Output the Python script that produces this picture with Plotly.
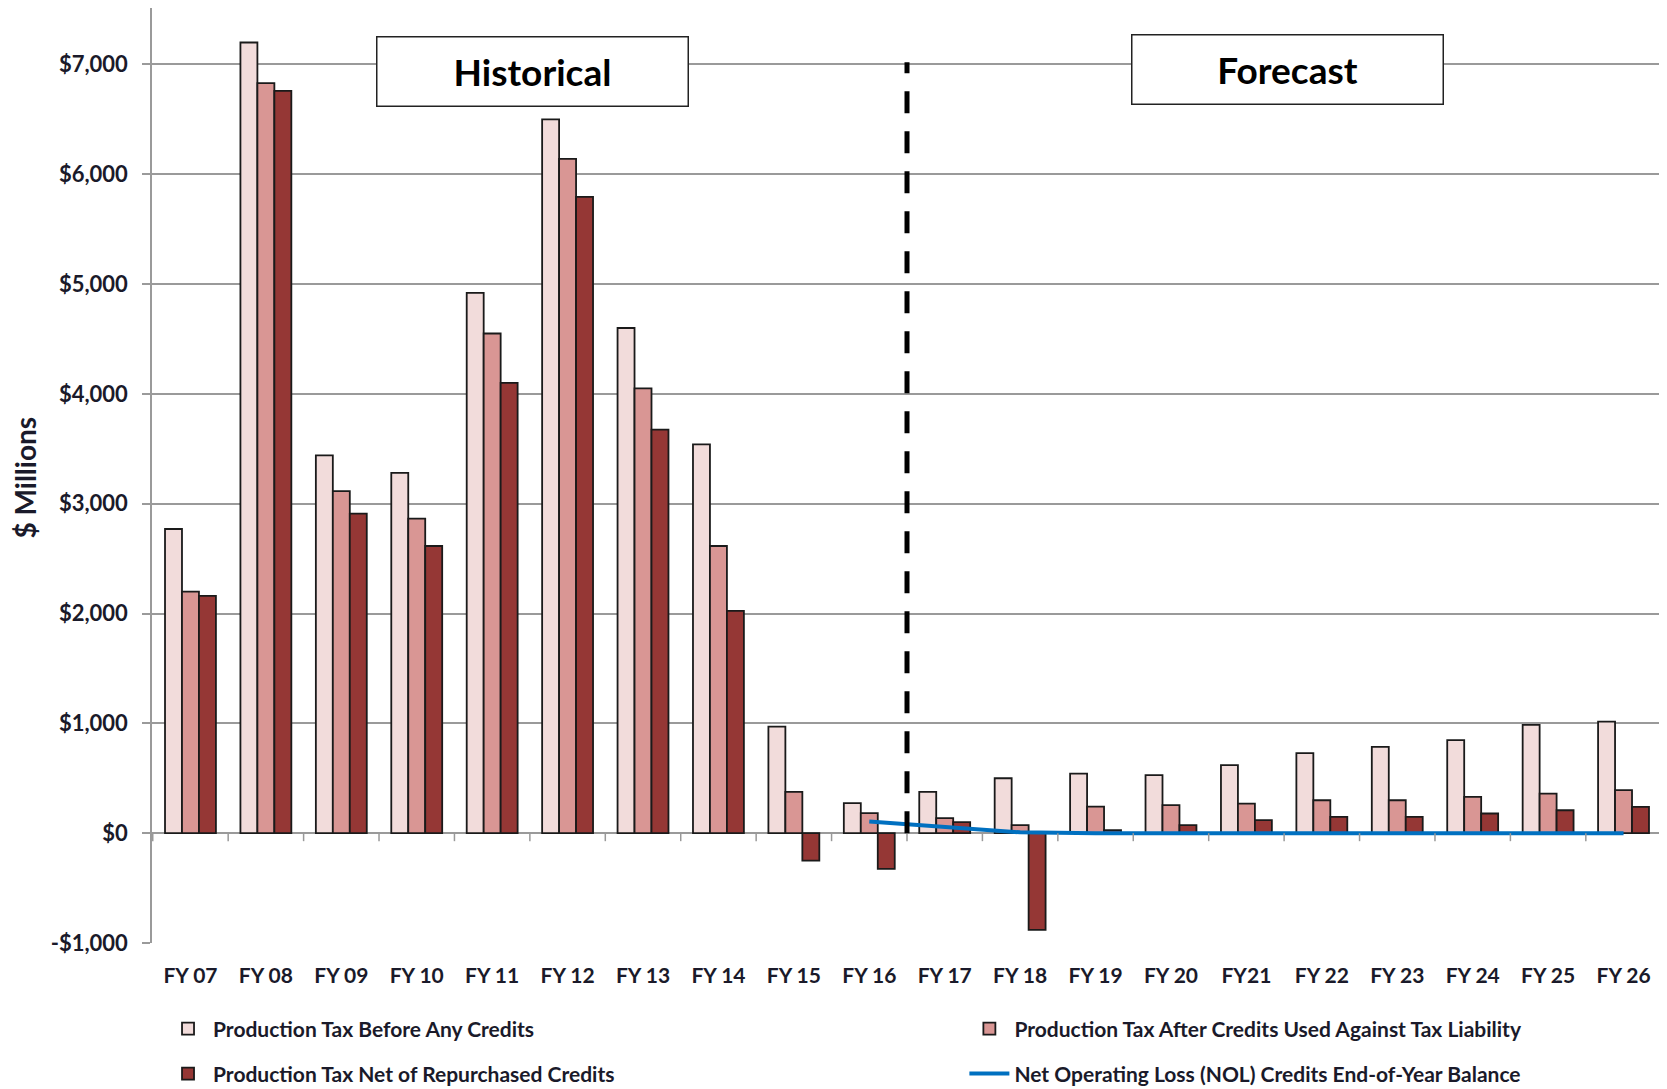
import plotly.graph_objects as go

categories = ["FY 07", "FY 08", "FY 09", "FY 10", "FY 11", "FY 12", "FY 13", "FY 14", "FY 15", "FY 16",
              "FY 17", "FY 18", "FY 19", "FY 20", "FY21", "FY 22", "FY 23", "FY 24", "FY 25", "FY 26"]

before_credits = [2770, 7200, 3440, 3280, 4920, 6500, 4600, 3540, 970, 273,
                  376, 500, 543, 528, 620, 729, 786, 847, 986, 1016]
after_credits = [2200, 6830, 3115, 2865, 4550, 6140, 4050, 2615, 376, 182,
                 137, 73, 242, 255, 270, 300, 300, 331, 361, 392]
net_repurchased = [2160, 6760, 2910, 2615, 4100, 5795, 3675, 2025, -250, -325,
                   100, -880, 27, 73, 118, 149, 149, 179, 209, 240]
nol_balance = [None, None, None, None, None, None, None, None, None, 106,
               60, 8, 0, 0, 0, 0, 0, 0, 0, 0]

y_tickvals = [-1000, 0, 1000, 2000, 3000, 4000, 5000, 6000, 7000]
y_ticktext = ["-$1,000", "$0", "$1,000", "$2,000", "$3,000", "$4,000", "$5,000", "$6,000", "$7,000"]

FONT = "Lato"
TXT = "#1a1a2a"

fig = go.Figure()
fig.add_trace(go.Bar(x=categories, y=before_credits, name="Production Tax Before Any Credits",
                     marker=dict(color="#F2DCDB", line=dict(color="#1a1a1a", width=1.8)), legend="legend"))
fig.add_trace(go.Bar(x=categories, y=after_credits, name="Production Tax After Credits Used Against Tax Liability",
                     marker=dict(color="#D99694", line=dict(color="#1a1a1a", width=1.8)), legend="legend2"))
fig.add_trace(go.Bar(x=categories, y=net_repurchased, name="Production Tax Net of Repurchased Credits",
                     marker=dict(color="#953735", line=dict(color="#1a1a1a", width=1.8)), legend="legend3"))
fig.add_trace(go.Scatter(x=categories, y=nol_balance, name="Net Operating Loss (NOL) Credits End-of-Year Balance",
                         mode="lines", line=dict(color="#0070C0", width=4), connectgaps=False, legend="legend4"))
for tr in fig.data:
    tr.showlegend = True

shapes = []
# category boundary tick marks along the zero line
for i in range(len(categories) + 1):
    shapes.append(dict(type="line", xref="x", yref="y", ysizemode="pixel", yanchor=0,
                       x0=i - 0.5, x1=i - 0.5, y0=0, y1=-8,
                       line=dict(color="#999999", width=1.5)))
# Historical / Forecast divider
div_x = categories.index("FY 16") + 0.5
shapes.append(dict(type="line", xref="x", yref="y", x0=div_x, x1=div_x, y0=0, y1=7020,
                   line=dict(color="black", width=5, dash="22px,18px"), layer="above"))

legend_common = dict(orientation="h", font=dict(family=FONT, size=21, color=TXT, weight="bold"),
                     bgcolor="rgba(0,0,0,0)", xanchor="left", yanchor="middle", itemwidth=40)

fig.update_layout(
    width=1659, height=1081,
    margin=dict(l=144, r=5, t=0, b=146, autoexpand=False),
    showlegend=True,
    paper_bgcolor="white", plot_bgcolor="white",
    barmode="group", bargap=0.325, bargroupgap=0,
    font=dict(family=FONT, color=TXT),
    xaxis=dict(type="category", showgrid=False, ticks="", showline=False, automargin=False,
               tickfont=dict(family=FONT, size=21, color=TXT, weight="bold"),
               ticklabelstandoff=18, fixedrange=True),
    yaxis=dict(range=[-1000, 7514], tickvals=y_tickvals, ticktext=y_ticktext, automargin=False,
               showgrid=True, gridcolor="#9a9a9a", gridwidth=1.5,
               zeroline=True, zerolinecolor="#9a9a9a", zerolinewidth=1.5,
               showline=True, linecolor="#9a9a9a", linewidth=1.5,
               ticks="outside", ticklen=8, tickcolor="#9a9a9a", tickwidth=1.5,
               tickfont=dict(family=FONT, size=22, color=TXT, weight="bold"),
               ticklabelstandoff=10),
    shapes=shapes,
    legend=dict(x=0.0073, y=-0.092, **legend_common),
    legend2=dict(x=0.538, y=-0.092, **legend_common),
    legend3=dict(x=0.0073, y=-0.140, **legend_common),
    legend4=dict(x=0.538, y=-0.140, **legend_common),
    annotations=[
        dict(text="<b>Historical</b>", xref="paper", yref="paper", x=0.2523, y=0.932,
             xanchor="center", yanchor="middle", showarrow=False,
             font=dict(family=FONT, size=37, color="black"),
             bgcolor="white", bordercolor="#222", borderwidth=1.5, width=310, height=68, borderpad=0),
        dict(text="<b>Forecast</b>", xref="paper", yref="paper", x=0.7523, y=0.9337,
             xanchor="center", yanchor="middle", showarrow=False,
             font=dict(family=FONT, size=37, color="black"),
             bgcolor="white", bordercolor="#222", borderwidth=1.5, width=310, height=68, borderpad=0),
        dict(text="<b>$ Millions</b>", xref="paper", yref="paper", x=-0.084, y=0.498,
             xanchor="center", yanchor="middle", showarrow=False, textangle=-90,
             font=dict(family=FONT, size=28, color=TXT)),
    ],
)

fig.write_html("out.html")
